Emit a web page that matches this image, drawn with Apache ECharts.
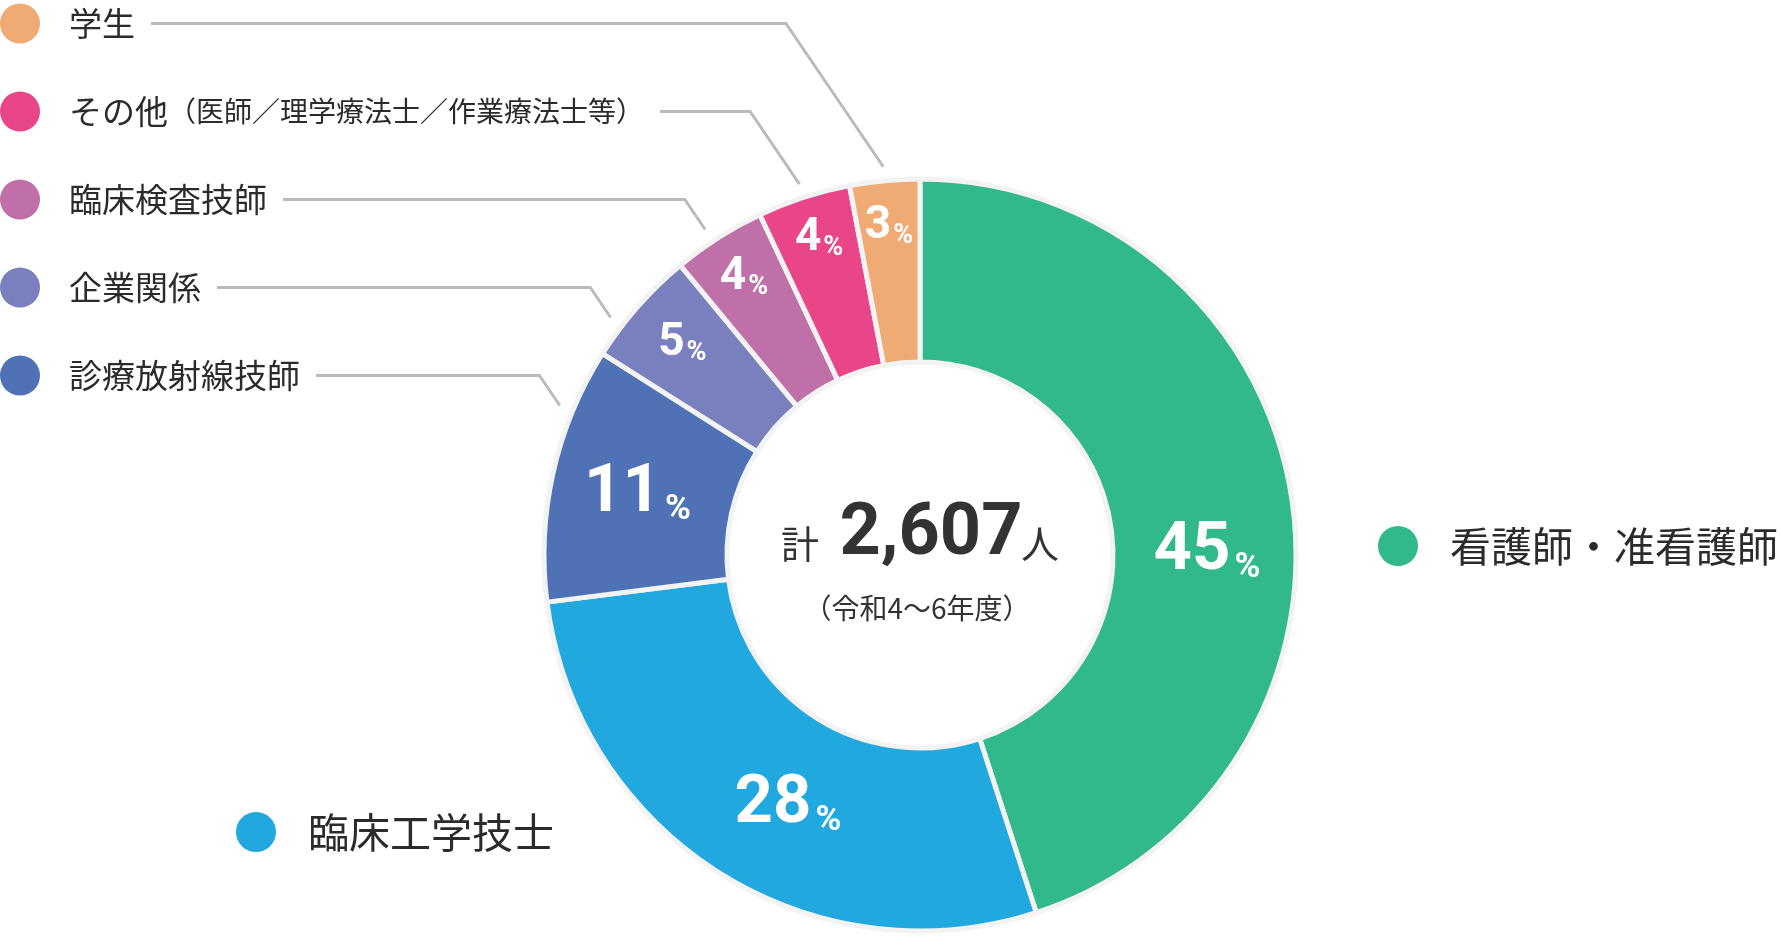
<!DOCTYPE html>
<html>
<head>
<meta charset="utf-8">
<script src="https://cdn.jsdelivr.net/npm/echarts@6/dist/echarts.min.js"></script>
<style>
html,body{margin:0;padding:0;background:#fff;}
#c{width:1780px;height:936px;}
</style>
</head>
<body>
<div id="c"></div>
<script>
// ---- data ----
const categories = ['看護師・准看護師', '臨床工学技士', '診療放射線技師', '企業関係', '臨床検査技師', 'その他（医師／理学療法士／作業療法士等）', '学生'];
const values = [45, 28, 11, 5, 4, 4, 3];
const totalPrefix = '計';
const totalValue = '2,607';
const totalUnit = '人';
const periodLabel = '（令和4〜6年度）';

// ---- style ----
const colors = ['#32b98b', '#21a8df', '#4f72b7', '#7a80bd', '#c070a9', '#e94589', '#f0ab74'];
const labelOffsets = [[3, 42], [22, 8], [-2, 2], [-22, -21], [-22, -35], [-12, -43], [-4, -42]];

const CX = 920, CY = 555, R0 = 193, R1 = 376, RL = 390;
const LEGEND_TOP = 23.5, LEGEND_GAP = 88;
const JP = "'Noto Sans CJK JP', sans-serif";
const NUM = "Roboto, 'Noto Sans CJK JP', sans-serif";
const TXT = '#2b2b2b';

const chart = echarts.init(document.getElementById('c'), null, {renderer: 'canvas'});

const dotRich = {};
colors.forEach((c, i) => {
  dotRich['d' + i] = {width: 40, height: 40, borderRadius: 20, backgroundColor: c};
});

const option = {
  backgroundColor: '#ffffff',
  animation: false,
  series: [
    {
      type: 'pie',
      center: [CX, CY],
      radius: [R0, R1],
      startAngle: 90,
      clockwise: true,
      silent: true,
      avoidLabelOverlap: false,
      itemStyle: {borderColor: '#f3f3f3', borderWidth: 5},
      label: {
        show: true,
        position: 'inside',
        color: '#fff',
        fontFamily: NUM,
        formatter: p => p.value >= 10 ? `{n|${p.value}}{p|%}` : `{ns|${p.value}}{ps|%}`,
        rich: {
          n: {fontSize: 67, fontWeight: 'bold', color: '#fff', fontFamily: NUM, lineHeight: 67, verticalAlign: 'bottom'},
          p: {fontSize: 35, fontWeight: 'bold', color: '#fff', fontFamily: NUM, lineHeight: 45, verticalAlign: 'bottom', padding: [0, 0, 0, 4]},
          ns: {fontSize: 46, fontWeight: 'bold', color: '#fff', fontFamily: NUM, lineHeight: 46, verticalAlign: 'bottom'},
          ps: {fontSize: 27, fontWeight: 'bold', color: '#fff', fontFamily: NUM, lineHeight: 33, verticalAlign: 'bottom', padding: [0, 0, 0, 2]}
        }
      },
      labelLine: {show: false},
      data: values.map((v, i) => ({
        name: categories[i],
        value: v,
        itemStyle: {color: colors[i]},
        label: {offset: labelOffsets[i]}
      }))
    },
    {
      type: 'pie',
      center: [CX, CY],
      radius: [R0, RL],
      startAngle: 90,
      clockwise: true,
      silent: true,
      avoidLabelOverlap: false,
      itemStyle: {color: 'rgba(0,0,0,0)', borderWidth: 0},
      label: {
        show: true,
        position: 'outside',
        formatter: p => {
          const i = p.dataIndex;
          const name = p.name;
          if (i < 2) return `{d${i}|}{T|${name}}`;
          const k = name.indexOf('（');
          if (k >= 0) return `{d${i}|}{t|${name.slice(0, k)}}{s|${name.slice(k)}}`;
          return `{d${i}|}{t|${name}}`;
        },
        rich: Object.assign({}, dotRich, {
          t: {fontSize: 33, color: TXT, fontFamily: JP, lineHeight: 40, padding: [0, 0, 0, 29]},
          s: {fontSize: 28, color: TXT, fontFamily: JP, lineHeight: 40},
          T: {fontSize: 41, color: TXT, fontFamily: JP, lineHeight: 40, padding: [0, 0, 0, 32]}
        })
      },
      labelLine: {show: true, length: 20, length2: 20, lineStyle: {color: '#bbbbbb', width: 3}},
      labelLayout: function (p) {
        const i = p.dataIndex;
        if (i === 0) return {x: CX + R1 + 82, y: CY - 9, align: 'left', verticalAlign: 'middle'};
        if (i === 1) return {x: CX - 684, y: CY + 277, align: 'left', verticalAlign: 'middle'};
        const row = categories.length - 1 - i;
        const y = LEGEND_TOP + row * LEGEND_GAP;
        let p1 = p.labelLinePoints ? p.labelLinePoints[0] : [CX, CY - RL];
        const dy = y + 30 - CY;
        if (Math.abs(dy) < RL) {
          p1 = [CX - Math.sqrt(RL * RL - dy * dy), y + 30];
        }
        const p2 = [p1[0] - 0.68 * (p1[1] - y), y];
        const p3 = [p.labelRect.width + 16, y];
        return {x: 0, y: y, align: 'left', verticalAlign: 'middle', labelLinePoints: [p1, p2, p3]};
      },
      data: values.map((v, i) => ({
        name: categories[i],
        value: v,
        labelLine: {show: i >= 2}
      }))
    }
  ],
  graphic: [
    {type: 'text', x: CX - 120, y: CY - 11, style: {text: totalPrefix, fontSize: 38, fontFamily: JP, fill: '#333', align: 'center', verticalAlign: 'middle'}},
    {type: 'text', x: CX + 11, y: CY - 19, style: {text: totalValue, fontSize: 72, fontWeight: 'bold', fontFamily: NUM, fill: '#333', align: 'center', verticalAlign: 'middle'}},
    {type: 'text', x: CX + 120, y: CY - 11, style: {text: totalUnit, fontSize: 38, fontFamily: JP, fill: '#333', align: 'center', verticalAlign: 'middle'}},
    {type: 'text', x: CX - 3, y: CY + 53, style: {text: periodLabel, fontSize: 28, fontFamily: JP, fill: '#333', align: 'center', verticalAlign: 'middle'}}
  ]
};

chart.setOption(option);
</script>
</body>
</html>
